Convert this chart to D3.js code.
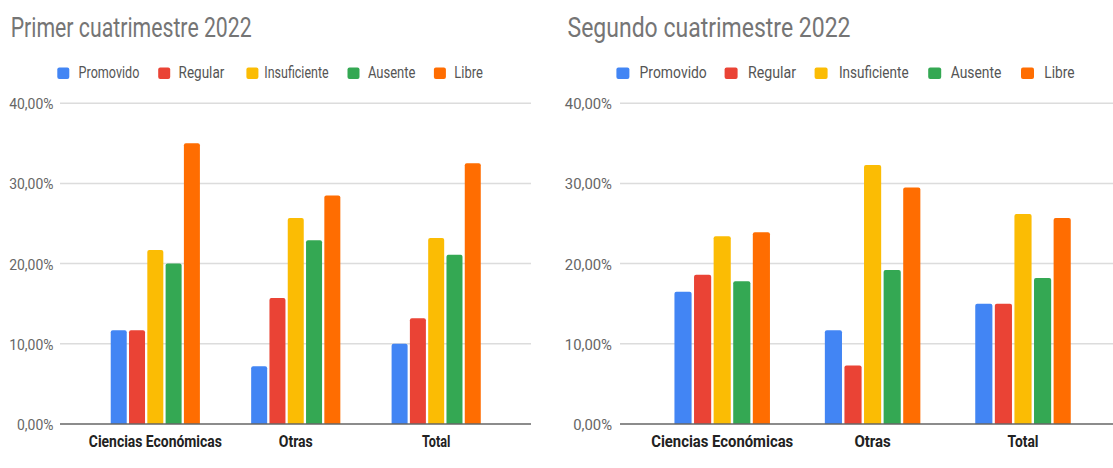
<!DOCTYPE html>
<html>
<head>
<meta charset="utf-8">
<script src="https://cdn.jsdelivr.net/npm/d3@7"></script>
<style>
  html, body { margin: 0; padding: 0; background: #fff; }
  svg { display: block; font-family: Roboto, "Noto Sans", Arial, sans-serif; }
</style>
</head>
<body>
<svg id="chart" width="1113" height="468"></svg>
<script>
// ---------- DATA ----------
const categories = ["Ciencias Económicas", "Otras", "Total"];
const seriesNames = ["Promovido", "Regular", "Insuficiente", "Ausente", "Libre"];
const yTicks = [0, 10, 20, 30, 40];
const yTickLabels = ["0,00%", "10,00%", "20,00%", "30,00%", "40,00%"];

const title1 = "Primer cuatrimestre 2022";
const promovido1    = [11.7, 7.2, 10.0];
const regular1      = [11.7, 15.7, 13.2];
const insuficiente1 = [21.7, 25.7, 23.2];
const ausente1      = [20.0, 22.9, 21.1];
const libre1        = [35.0, 28.5, 32.5];

const title2 = "Segundo cuatrimestre 2022";
const promovido2    = [16.5, 11.7, 15.0];
const regular2      = [18.6, 7.3, 15.0];
const insuficiente2 = [23.4, 32.3, 26.2];
const ausente2      = [17.8, 19.2, 18.2];
const libre2        = [23.9, 29.5, 25.7];

// ---------- STYLE / LAYOUT ----------
const colors = ["#4285F4", "#EA4335", "#FBBC04", "#34A853", "#FF6D01"];

const svg = d3.select("#chart");

const panels = [
  {
    title: title1,
    values: [promovido1, regular1, insuficiente1, ausente1, libre1],
    titleX: 10.7, titleW: 241,
    gridX0: 60, gridX1: 531, tickRight: 53.5,
    bandRange: [85.1, 506.4],
    legendSq: [57.3, 158.2, 246.4, 347.5, 433.9],
    legendTx: [78.6, 178.6, 264.3, 367.9, 454.3],
    legendTw: [60.7, 45.7, 64.3, 47.5, 28.6],
    sqW: 12,
    xLabelW: [133, 34, 28.3],
    tickK: 0.93
  },
  {
    title: title2,
    values: [promovido2, regular2, insuficiente2, ausente2, libre2],
    titleX: 567.5, titleW: 283,
    gridX0: 620, gridX1: 1113, tickRight: 612,
    bandRange: [647, 1098.2],
    legendSq: [616.4, 724.6, 814.6, 928.2, 1021],
    legendTx: [639.6, 747.9, 838.9, 950.7, 1044.3],
    legendTw: [67.2, 48.1, 69.7, 50.7, 30.3],
    sqW: 13,
    xLabelW: [142, 36.4, 31],
    tickK: 0.99
  }
];

const y = d3.scaleLinear().domain([0, 40]).range([424, 103.2]);

function topRoundedBar(x, yTop, w, yBottom, r) {
  const p = d3.path();
  const rr = Math.min(r, w / 2, (yBottom - yTop));
  p.moveTo(x, yBottom);
  p.lineTo(x, yTop + rr);
  p.quadraticCurveTo(x, yTop, x + rr, yTop);
  p.lineTo(x + w - rr, yTop);
  p.quadraticCurveTo(x + w, yTop, x + w, yTop + rr);
  p.lineTo(x + w, yBottom);
  p.closePath();
  return p.toString();
}

panels.forEach(P => {
  const g = svg.append("g");

  // Title
  g.append("text")
    .attr("x", P.titleX).attr("y", 37.3)
    .attr("font-size", 28)
    .attr("fill", "#757575")
    .attr("textLength", P.titleW)
    .attr("lengthAdjust", "spacingAndGlyphs")
    .text(P.title);

  // Legend
  seriesNames.forEach((s, i) => {
    g.append("rect")
      .attr("x", P.legendSq[i]).attr("y", 67.5)
      .attr("width", P.sqW).attr("height", 11.5)
      .attr("rx", 2).attr("fill", colors[i]);
    g.append("text")
      .attr("x", P.legendTx[i]).attr("y", 77.5)
      .attr("font-size", 16.5)
      .attr("fill", "#555")
      .attr("textLength", P.legendTw[i])
      .attr("lengthAdjust", "spacingAndGlyphs")
      .text(s);
  });

  // Gridlines
  const gridVals = yTicks.filter(v => v > 0);
  g.selectAll("line.grid").data(gridVals).enter().append("line")
    .attr("class", "grid")
    .attr("x1", P.gridX0).attr("x2", P.gridX1)
    .attr("y1", d => y(d)).attr("y2", d => y(d))
    .attr("stroke", "#dcdcdc").attr("stroke-width", 1.5);

  // Y axis labels via d3 axis
  const yAxis = d3.axisLeft(y).tickValues(yTicks)
    .tickFormat((d, i) => yTickLabels[i]).tickSize(0).tickPadding(0);
  const ya = g.append("g")
    .attr("transform", `translate(${P.tickRight},0)`)
    .call(yAxis);
  ya.select(".domain").remove();
  ya.selectAll("text")
    .attr("font-family", "Roboto, sans-serif")
    .attr("font-size", 15)
    .attr("fill", "#666")
    .attr("dy", "0.36em")
    .each(function () {
      const w = this.getComputedTextLength();
      d3.select(this).attr("textLength", w * P.tickK).attr("lengthAdjust", "spacingAndGlyphs");
    });

  // Bars
  const x0 = d3.scaleBand().domain(categories).range(P.bandRange)
    .paddingInner(0.365).paddingOuter(0.1825);
  const x1 = d3.scaleBand().domain(seriesNames).range([0, x0.bandwidth()])
    .paddingInner(0.125);

  categories.forEach((c, ci) => {
    seriesNames.forEach((s, si) => {
      const v = P.values[si][ci];
      g.append("path")
        .attr("d", topRoundedBar(x0(c) + x1(s), y(v), x1.bandwidth(), y(0), 2))
        .attr("fill", colors[si]);
    });
  });

  // Baseline
  g.append("line")
    .attr("x1", P.gridX0).attr("x2", P.gridX1)
    .attr("y1", y(0)).attr("y2", y(0))
    .attr("stroke", "#666").attr("stroke-width", 1.5);

  // X axis labels via d3 axis
  const xAxis = d3.axisBottom(x0).tickSize(0).tickPadding(0);
  const xa = g.append("g").attr("transform", `translate(0,${446.7})`).call(xAxis);
  xa.select(".domain").remove();
  xa.selectAll("text")
    .attr("font-family", "Roboto, sans-serif")
    .attr("font-size", 16.5)
    .attr("font-weight", "bold")
    .attr("fill", "#222")
    .attr("dy", 0)
    .attr("text-anchor", "middle")
    .each(function (d, i) {
      d3.select(this).attr("textLength", P.xLabelW[i]).attr("lengthAdjust", "spacingAndGlyphs");
    });
});
</script>
</body>
</html>
